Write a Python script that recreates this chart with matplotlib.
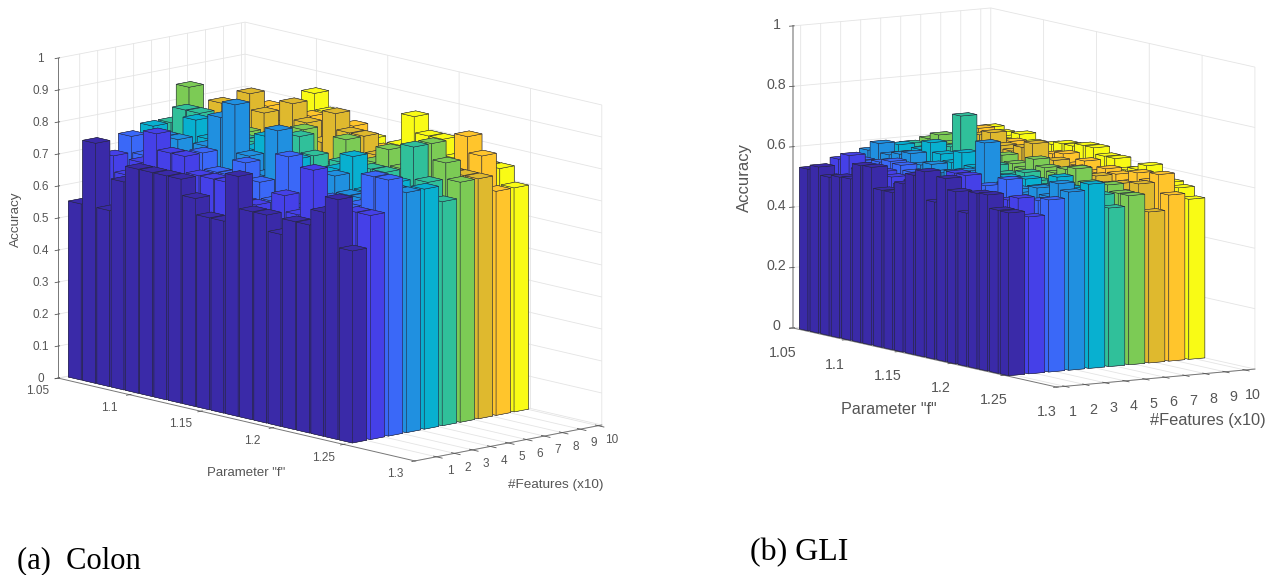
import matplotlib
matplotlib.use('Agg')
import matplotlib.pyplot as plt
import numpy as np
from matplotlib.transforms import Affine2D

plt.rcParams['font.family'] = ['Liberation Sans', 'DejaVu Sans']

# one row per #Features (1..10), one column per value of parameter f
f_values = [1.06, 1.07, 1.08, 1.09, 1.10, 1.11, 1.12, 1.13, 1.14, 1.15,
            1.16, 1.17, 1.18, 1.19, 1.20, 1.21, 1.22, 1.23, 1.24, 1.25]
features = [1, 2, 3, 4, 5, 6, 7, 8, 9, 10]

colon = [
    [.55, .75, .55, .65, .70, .70, .70, .70, .65, .60, .60, .75, .65, .65, .60, .65, .65, .70, .75, .60],
    [.60, .70, .65, .70, .80, .75, .75, .70, .70, .70, .65, .65, .60, .70, .65, .80, .65, .65, .70, .70],
    [.65, .75, .70, .70, .70, .70, .75, .70, .70, .75, .70, .65, .80, .65, .65, .70, .65, .70, .80, .80],
    [.70, .70, .75, .75, .70, .75, .85, .90, .75, .70, .85, .70, .70, .70, .75, .70, .70, .70, .75, .75],
    [.75, .70, .70, .80, .75, .70, .70, .75, .80, .70, .75, .70, .70, .75, .80, .70, .70, .75, .70, .75],
    [.75, .80, .80, .75, .70, .75, .75, .70, .75, .80, .75, .70, .75, .70, .75, .75, .70, .85, .75, .70],
    [.85, .75, .75, .70, .75, .70, .75, .75, .80, .70, .70, .80, .70, .75, .80, .75, .75, .85, .80, .75],
    [.75, .80, .75, .85, .80, .75, .85, .80, .75, .85, .80, .80, .75, .75, .75, .75, .70, .75, .75, .75],
    [.75, .70, .75, .80, .75, .75, .80, .70, .75, .80, .70, .75, .75, .75, .75, .75, .75, .85, .80, .70],
    [.70, .70, .75, .75, .75, .85, .80, .75, .75, .75, .70, .75, .85, .80, .80, .75, .75, .75, .75, .70],
]

gli = [
    [.535, .55, .524, .532, .534, .586, .588, .52, .52, .557, .593, .613, .52, .606, .57, .507, .58, .583, .54, .539],
    [.53, .57, .59, .55, .54, .56, .55, .53, .55, .56, .54, .56, .61, .61, .55, .53, .55, .56, .574, .52],
    [.55, .56, .56, .57, .58, .575, .56, .55, .53, .55, .56, .54, .55, .57, .53, .606, .55, .54, .56, .57],
    [.58, .61, .58, .59, .60, .57, .58, .56, .57, .58, .56, .69, .55, .57, .56, .55, .58, .56, .61, .59],
    [.57, .60, .58, .60, .63, .60, .58, .62, .58, .57, .56, .57, .55, .58, .56, .57, .61, .58, .57, .61],
    [.59, .58, .57, .60, .61, .72, .60, .57, .58, .56, .55, .58, .56, .55, .57, .56, .55, .57, .56, .525],
    [.60, .62, .60, .58, .60, .58, .59, .60, .58, .57, .61, .59, .58, .60, .61, .57, .55, .58, .56, .56],
    [.60, .61, .62, .63, .645, .61, .60, .62, .64, .58, .60, .56, .59, .57, .58, .56, .57, .55, .585, .50],
    [.61, .63, .62, .60, .61, .59, .60, .59, .60, .608, .58, .60, .57, .59, .58, .56, .60, .58, .61, .55],
    [.62, .61, .60, .62, .60, .59, .61, .62, .62, .63, .63, .61, .61, .58, .59, .61, .58, .57, .56, .53],
]

row_colors = ['#3a2aa8', '#4540e8', '#3a68f8', '#2090e0', '#08b0d0',
              '#30c09a', '#7ccb55', '#dfb92e', '#ffc52c', '#f9fb15']

f_ticks = [1.05, 1.1, 1.15, 1.2, 1.25, 1.3]
f_ticklabels = ['1.05', '1.1', '1.15', '1.2', '1.25', '1.3']

W, H = 1279, 575
fig = plt.figure(figsize=(W / 100, H / 100), dpi=100)


def move_labels(ax, axis, dx, dy):
    # nudge tick labels in pixels, Axis3D resets their transform in get_major_ticks
    orig = axis.get_major_ticks
    moved = ax.transData + Affine2D().translate(dx, dy)

    def get_major_ticks(numticks=None):
        ticks = orig(numticks)
        for t in ticks:
            t.label1.set_transform(moved)
        return ticks
    axis.get_major_ticks = get_major_ticks


def draw_bars(pos, aspect, elev, azim, data, ylim, zticks, zlabels, fsize,
              f_shift, f_width, y_shift, xmove, ymove, zmove):
    ax = fig.add_axes([pos[0] / W, pos[1] / H, pos[2] / W, pos[2] / H],
                      projection='3d', proj_type='ortho')
    ax.patch.set_alpha(0)
    ax.computed_zorder = False
    ax.view_init(elev=elev, azim=azim)
    ax.set_box_aspect(aspect)

    # back rows first, low f first, so nearer bars cover the ones behind
    order = 0
    for r in range(len(features) - 1, -1, -1):
        for i in range(len(f_values)):
            ax.bar3d(f_values[i] - f_shift, features[r] - y_shift, 0, f_width, 0.8, data[r][i],
                     color=row_colors[r], edgecolor='#26263a', linewidth=0.35,
                     shade=False, zorder=10 + order)
            order += 1

    ax.set_xlim(1.05, 1.3)
    ax.set_ylim(*ylim)
    ax.set_zlim(0, 1)
    ax.set_xticks(f_ticks)
    ax.set_xticklabels(f_ticklabels)
    ax.set_yticks(features)
    ax.set_zticks(zticks)
    ax.set_zticklabels(zlabels)
    ax.zaxis.set_ticks_position('lower')

    for axis in (ax.xaxis, ax.yaxis, ax.zaxis):
        axis.set_pane_color((1, 1, 1, 0))
        axis.pane.set_edgecolor('#dddddd')
        axis.line.set_color('#777777')
        axis.line.set_linewidth(0.7)
        axis._axinfo['grid']['color'] = '#e4e4e4'
        axis._axinfo['grid']['linewidth'] = 0.6
        axis._axinfo['tick']['color'] = '#666666'
        axis._axinfo['tick']['linewidth'] = {True: 0.6, False: 0.4}
    ax.tick_params(axis='both', labelsize=fsize, colors='#555555', pad=0)
    move_labels(ax, ax.xaxis, *xmove)
    move_labels(ax, ax.yaxis, *ymove)
    move_labels(ax, ax.zaxis, *zmove)
    return ax


draw_bars((-5.2, -1.7, 652.7), (530, 252.7, 327.4), 12.2, -42.3, colon, (-0.2, 10.2),
          np.arange(0, 1.01, 0.1),
          ['0', '0.1', '0.2', '0.3', '0.4', '0.5', '0.6', '0.7', '0.8', '0.9', '1'],
          8.5, 0.0085, 0.009, 0.75, (-14, 4.5), (2, 5), (0, 4))
ax2 = draw_bars((712.5, 66.2, 606.2), (491.6, 234.9, 305.1), 8.2, -32.5, gli, (0.6, 10.5),
                [0, 0.2, 0.4, 0.6, 0.8, 1], ['0', '0.2', '0.4', '0.6', '0.8', '1'],
                10.3, 0.0054, 0.008, 0.3, (-3.5, -6.5), (-1, -5.5), (0, 7))
ax2.zaxis.line.set_color('#aaaaaa')
ax2.zaxis.line.set_linewidth(1.3)

grey = '#555555'
fig.text(246 / W, 1 - 473 / H, 'Parameter "f"', fontsize=9.5, color=grey, ha='center', va='center')
fig.text(556 / W, 1 - 485 / H, '#Features (x10)', fontsize=9.7, color=grey, ha='center', va='center')
fig.text(16 / W, 1 - 219 / H, 'Accuracy', fontsize=9.7, color=grey, rotation=90, ha='center', va='center')
fig.text(889 / W, 1 - 409 / H, 'Parameter "f"', fontsize=11.6, color=grey, ha='center', va='center')
fig.text(1208 / W, 1 - 421 / H, '#Features (x10)', fontsize=11.8, color=grey, ha='center', va='center')
fig.text(744.5 / W, 1 - 177 / H, 'Accuracy', fontsize=12, color=grey, rotation=90, ha='center', va='center')

fig.text(17 / W, 1 - 561 / H, '(a)  Colon', fontsize=22, family='Liberation Serif', va='center')
fig.text(750 / W, 1 - 553 / H, '(b) GLI', fontsize=23, family='Liberation Serif', va='center')

fig.savefig('out.png', dpi=100)
